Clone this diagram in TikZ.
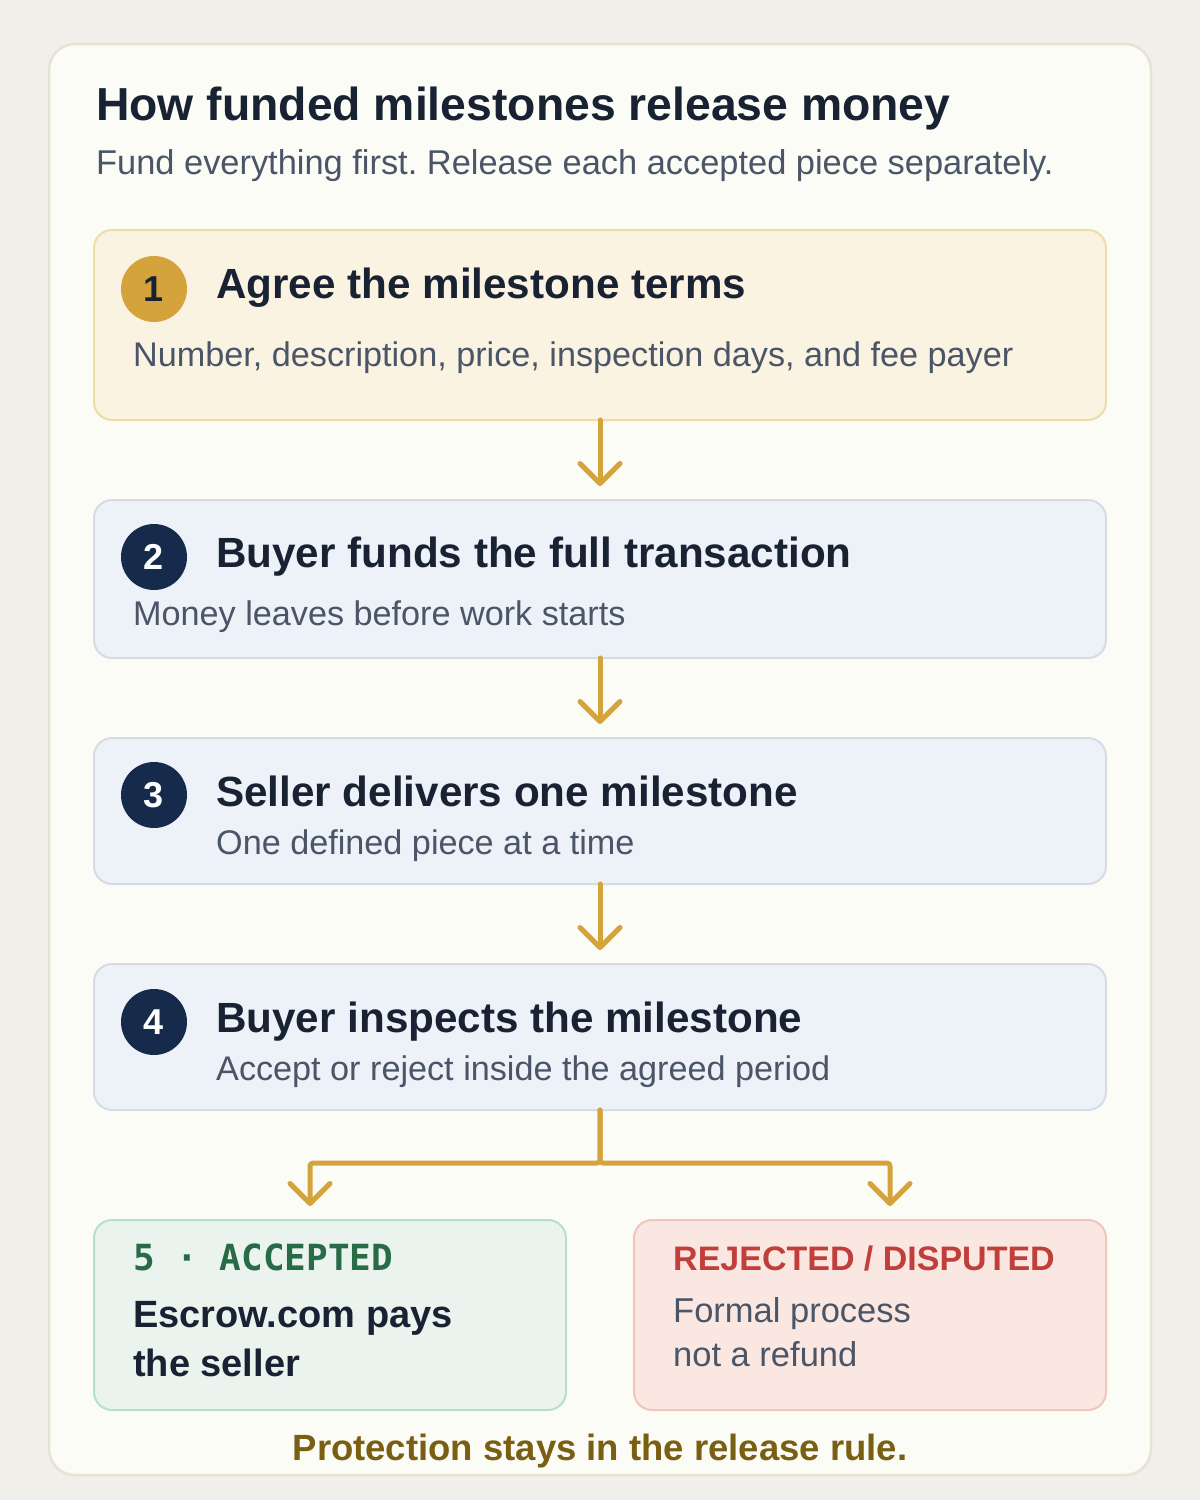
\documentclass[tikz,border=0pt]{standalone}
\usepackage{fontspec}
\setmainfont{Liberation Sans}
\newfontfamily\monofont{DejaVu Sans Mono}
\usetikzlibrary{arrows.meta}
\frenchspacing
\definecolor{bgc}{HTML}{F0EFE9}
\definecolor{cardfill}{HTML}{FCFCF6}
\definecolor{carddraw}{HTML}{E6E3D3}
\definecolor{goldfill}{HTML}{FBF3E1}
\definecolor{golddraw}{HTML}{EFDDA8}
\definecolor{gold}{HTML}{D5A33B}
\definecolor{navy}{HTML}{162A4B}
\definecolor{bluefill}{HTML}{EDF1F8}
\definecolor{bluedraw}{HTML}{D6DBE6}
\definecolor{ink}{HTML}{182233}
\definecolor{graytxt}{HTML}{4A5568}
\definecolor{greenfill}{HTML}{EAF3EE}
\definecolor{greendraw}{HTML}{B8DFCB}
\definecolor{greentxt}{HTML}{2A6B47}
\definecolor{redfill}{HTML}{FBE7E1}
\definecolor{reddraw}{HTML}{F3C4BC}
\definecolor{redtxt}{HTML}{C13F3B}
\definecolor{olive}{HTML}{7A5E12}
\tikzset{
  panel/.style={draw=#1draw, fill=#1fill, line width=2pt, rounded corners=18pt},
  badge/.style={circle, minimum size=66pt, inner sep=0pt, fill=#1},
  badgetxt/.style={font=\fontsize{36}{40}\selectfont\bfseries},
  steptitle/.style={anchor=base west, inner sep=0pt, text=ink, font=\fontsize{42.2}{50}\selectfont\bfseries},
  stepsub/.style={anchor=base west, inner sep=0pt, text=graytxt, font=\fontsize{34.2}{40}\selectfont},
  txt/.style={anchor=base west, inner sep=0pt},
  flow/.style={draw=gold, line width=5pt, line cap=round, line join=round,
    -{Straight Barb[length=20pt,width=40pt,round]}}
}
\begin{document}
\begin{tikzpicture}[x=1pt,y=-1pt]
\useasboundingbox (0,0) rectangle (1200,1500);
\fill[bgc] (0,0) rectangle (1200,1500);
\draw[draw=carddraw, fill=cardfill, line width=2.5pt, rounded corners=26pt] (49,44) rectangle (1151,1475);
% title
\node[txt, text=ink, font=\fontsize{46.3}{56}\selectfont\bfseries] (title) at (96,120) {How funded milestones release money};
\node[txt, text=graytxt, font=\fontsize{34.4}{40}\selectfont] (subtitle) at (96,174) {Fund everything first. Release each accepted piece separately.};
% boxes
\path[panel=gold] (94,230) rectangle (1106,420);
\coordinate (b1n) at (600,230); \coordinate (b1s) at (600,420);
\node[badge=gold, text=ink, badgetxt] (n1) at (154,289) {1};
\node[steptitle] (t1) at (216,298) {Agree the milestone terms};
\node[stepsub] (s1) at (133,366) {Number, description, price, inspection days, and fee payer};

\path[panel=blue] (94,500) rectangle (1106,658);
\coordinate (b2n) at (600,500); \coordinate (b2s) at (600,658);
\node[badge=navy, text=white, badgetxt] (n2) at (154,557) {2};
\node[steptitle] (t2) at (216,567) {Buyer funds the full transaction};
\node[stepsub] (s2) at (133,625) {Money leaves before work starts};

\path[panel=blue] (94,738) rectangle (1106,884);
\coordinate (b3n) at (600,738); \coordinate (b3s) at (600,884);
\node[badge=navy, text=white, badgetxt] (n3) at (154,795) {3};
\node[steptitle] (t3) at (216,806) {Seller delivers one milestone};
\node[stepsub] (s3) at (216,854) {One defined piece at a time};

\path[panel=blue] (94,964) rectangle (1106,1110);
\coordinate (b4n) at (600,964); \coordinate (b4s) at (600,1110);
\node[badge=navy, text=white, badgetxt] (n4) at (154,1022) {4};
\node[steptitle] (t4) at (216,1032) {Buyer inspects the milestone};
\node[stepsub] (s4) at (216,1080) {Accept or reject inside the agreed period};

\path[panel=green] (94,1220) rectangle (566,1410);
\node[txt, text=greentxt, font=\fontsize{36}{40}\selectfont\monofont\bfseries] (h5) at (133,1270) {5 · ACCEPTED};
\node[txt, text=ink, font=\fontsize{38}{49}\selectfont\bfseries] (t5a) at (133,1327) {Escrow.com pays};
\node[txt, text=ink, font=\fontsize{38}{49}\selectfont\bfseries] (t5b) at (133,1376) {the seller};

\path[panel=red] (634,1220) rectangle (1106,1410);
\node[txt, text=redtxt, font=\fontsize{34}{40}\selectfont\bfseries] (h6) at (673,1270) {REJECTED / DISPUTED};
\node[txt, text=graytxt, font=\fontsize{34.5}{44}\selectfont] (t6a) at (673,1322) {Formal process};
\node[txt, text=graytxt, font=\fontsize{34.5}{44}\selectfont] (t6b) at (673,1366) {not a refund};

\node[anchor=base, inner sep=0pt, text=olive, font=\fontsize{36.5}{40}\selectfont\bfseries] (foot) at (600,1460) {Protection stays in the release rule.};

% connectors
\draw[flow, shorten >=14pt] (b1s) -- (b2n);
\draw[flow, shorten >=14pt] (b2s) -- (b3n);
\draw[flow, shorten >=14pt] (b3s) -- (b4n);
\coordinate (j) at (600,1163);
\coordinate (tl) at (310,1206);
\coordinate (tr) at (890,1206);
\draw[flow, rounded corners=3pt] (b4s) -- (j) -| (tl);
\draw[flow, rounded corners=3pt] (b4s) -- (j) -| (tr);
\end{tikzpicture}
\end{document}
